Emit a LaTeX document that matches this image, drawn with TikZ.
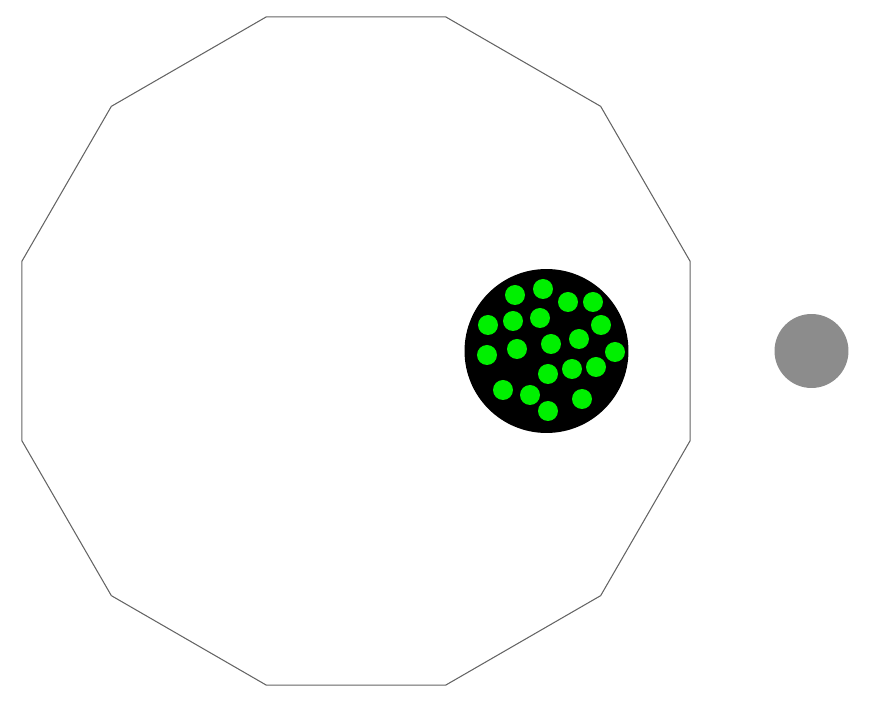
\documentclass[tikz,border=0pt]{standalone}
\usepackage{xcolor}
\usepackage{tikz}
\usetikzlibrary{positioning, calc}
\definecolor{edge}{RGB}{100, 100, 100}
\definecolor{dotgreen}{RGB}{0, 240, 0}
\definecolor{moongray}{RGB}{140, 140, 140}
\tikzstyle{hull} = [draw=edge, line width=0.6pt]
\tikzstyle{core} = [circle, fill=black, inner sep=0pt, minimum size=3.28cm]
\tikzstyle{grain} = [circle, fill=dotgreen, inner sep=0pt, minimum size=0.4cm]
\tikzstyle{moon} = [circle, fill=moongray, inner sep=0pt, minimum size=1.48cm]

\begin{document}
\begin{tikzpicture}[x=0.02cm, y=-0.02cm]
    \useasboundingbox (0,0) rectangle (870,705);
    % Outer dodecagon
    \coordinate (centre) at (356,351);
    \draw [hull] ($(centre)+(15:346)$) \foreach \a in {45,75,...,345} { -- ($(centre)+(\a:346)$) } -- cycle;

    % Black disc and satellite
    \node (disc) [core] at (546.5,351) {};
    \node (sat) [moon] at (811.5,351) {};

    % Green grains inside the disc
    \foreach \x/\y [count=\i] in {515/295, 543/289, 568/302, 593/302, 488/325,
        513/321, 540/318, 601/325, 487/355, 517/349, 551/344, 579/339, 615/352,
        548/374, 572/369, 596/367, 503/390, 530/395, 582/399, 548/411}
        \node (g\i) [grain] at (\x,\y) {};
\end{tikzpicture}
\end{document}
